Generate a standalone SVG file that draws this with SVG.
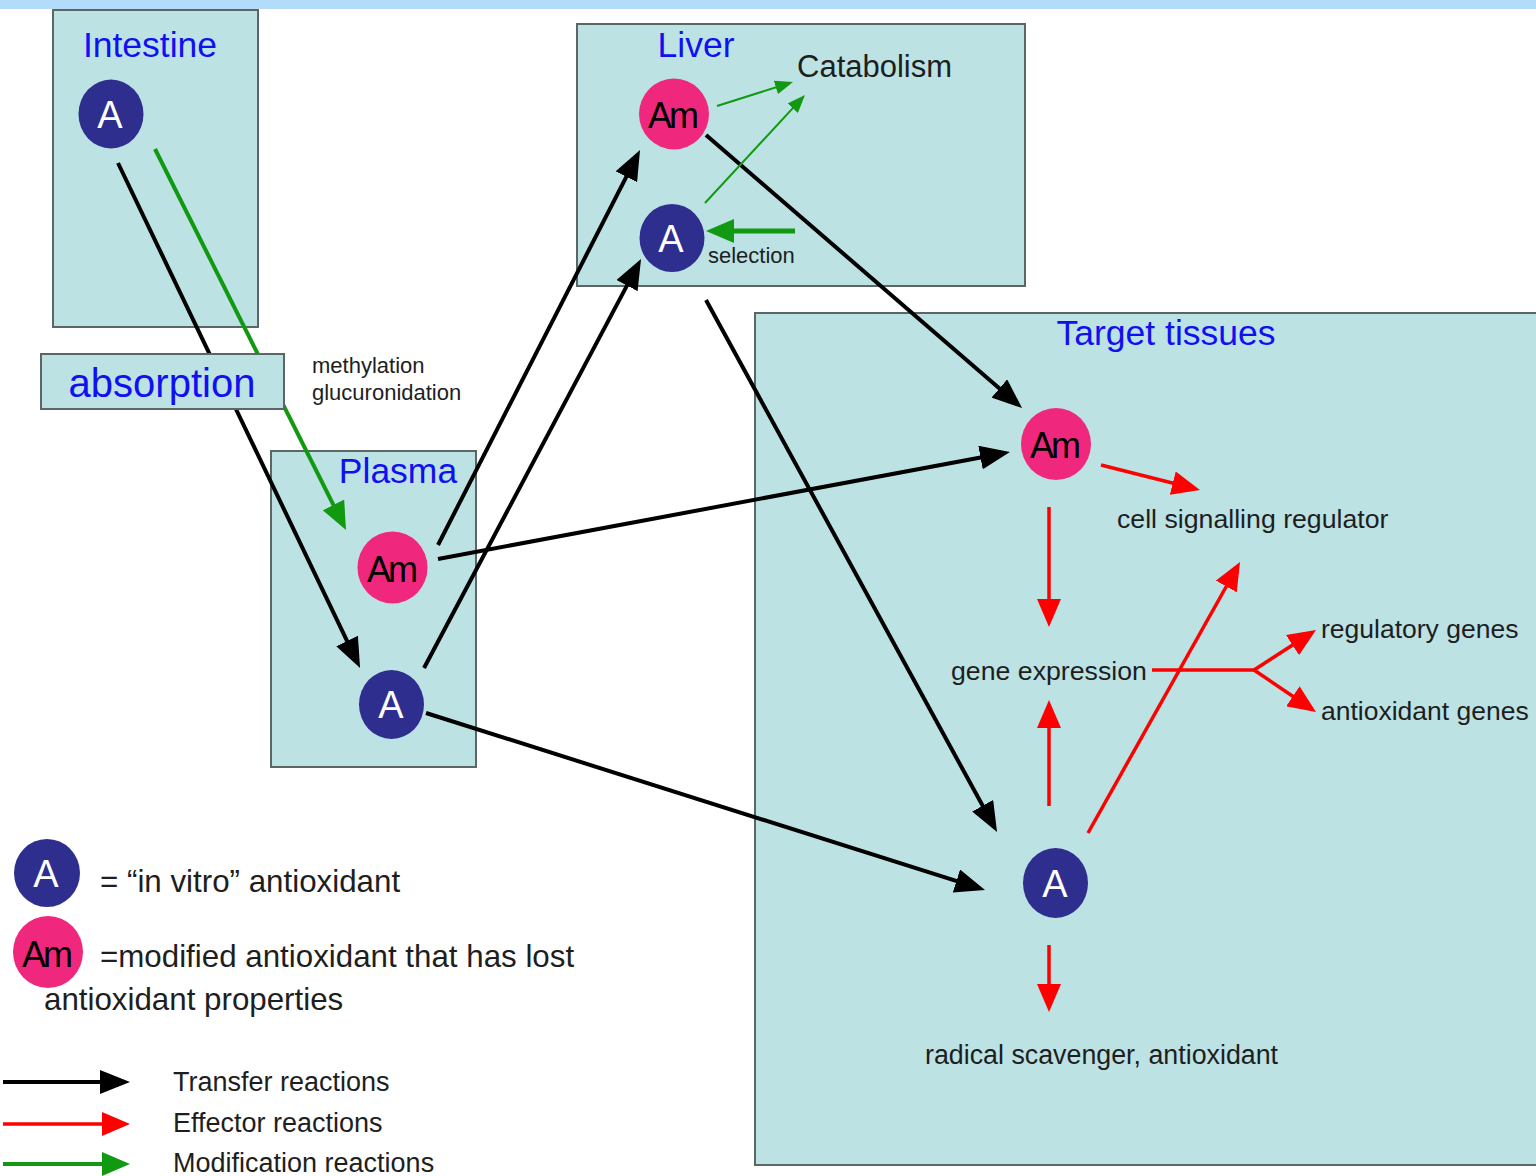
<svg xmlns="http://www.w3.org/2000/svg" width="1536" height="1176" viewBox="0 0 1536 1176">
<defs>
<style>
.box{fill:#bce2e4;stroke:#5d6666;stroke-width:2}
.title{font-family:"Liberation Sans",Arial,sans-serif;font-size:35.5px;fill:#1010f0}
.lbl{font-family:"Liberation Sans",Arial,sans-serif;fill:#1e1e1e}
.a{fill:#2e2e8e}
.am{fill:#f0287d}
.at{font-family:"Liberation Sans",Arial,sans-serif;font-size:38px;fill:#fff;text-anchor:middle}
.amt{font-family:"Liberation Sans",Arial,sans-serif;font-size:36px;fill:#000;text-anchor:middle;letter-spacing:-3px}
.blk{fill:none;stroke:#000;stroke-width:4;marker-end:url(#ah-black)}
.red{fill:none;stroke:#ff0000;stroke-width:3.5;marker-end:url(#ah-red)}
.grn{fill:none;stroke:#119a11;stroke-width:4;marker-end:url(#ah-green)}
.grn-thin{fill:none;stroke:#119a11;stroke-width:2;marker-end:url(#ah-green-s)}
</style>
<marker id="ah-black" markerUnits="userSpaceOnUse" markerWidth="30" markerHeight="24" refX="22" refY="12" orient="auto"><path d="M0,0 L30,12 L0,24 z" fill="#000"/></marker>
<marker id="ah-red" markerUnits="userSpaceOnUse" markerWidth="28" markerHeight="24" refX="20" refY="12" orient="auto"><path d="M0,0 L28,12 L0,24 z" fill="#ff0000"/></marker>
<marker id="ah-green" markerUnits="userSpaceOnUse" markerWidth="28" markerHeight="24" refX="20" refY="12" orient="auto"><path d="M0,0 L28,12 L0,24 z" fill="#119a11"/></marker>
<marker id="ah-green-s" markerUnits="userSpaceOnUse" markerWidth="18" markerHeight="14" refX="12" refY="7" orient="auto"><path d="M0,0 L18,7 L0,14 z" fill="#119a11"/></marker>
</defs>
<rect x="0" y="0" width="1536" height="1176" fill="#fff"/>
<rect x="0" y="0" width="1536" height="9" fill="#b3dcfb"/>

<g id="intestine"><rect class="box" x="53" y="10" width="205" height="317"/><text class="title" x="150" y="57" text-anchor="middle">Intestine</text></g>
<g id="liver"><rect class="box" x="577" y="24" width="448" height="262"/><text class="title" x="696" y="57" text-anchor="middle">Liver</text></g>
<g id="plasma"><rect class="box" x="271" y="451" width="205" height="316"/><text class="title" x="398" y="483" text-anchor="middle">Plasma</text></g>
<g id="target"><rect class="box" x="755" y="313" width="800" height="852"/><text class="title" x="1166" y="345" text-anchor="middle">Target tissues</text></g>

<g id="labels">
<text class="lbl" x="312" y="373" font-size="22">methylation</text>
<text class="lbl" x="312" y="400" font-size="22">glucuronidation</text>
<text class="lbl" x="797" y="77" font-size="31">Catabolism</text>
<text class="lbl" x="708" y="263" font-size="22">selection</text>
<text class="lbl" x="1117" y="528" font-size="26.7">cell signalling regulator</text>
<text class="lbl" x="951" y="680" font-size="26.7">gene expression</text>
<text class="lbl" x="1321" y="638" font-size="26.5">regulatory genes</text>
<text class="lbl" x="1321" y="720" font-size="26.5">antioxidant genes</text>
<text class="lbl" x="925" y="1064" font-size="26.8">radical scavenger, antioxidant</text>
</g>

<g id="intestine-A"><ellipse class="a" cx="111" cy="114" rx="32.5" ry="34.5"/><text class="at" x="110" y="128">A</text></g>
<g id="liver-Am"><ellipse class="am" cx="674" cy="114" rx="35" ry="35.5"/><text class="amt" x="672" y="128">Am</text></g>
<g id="liver-A"><ellipse class="a" cx="672" cy="238" rx="32.5" ry="34"/><text class="at" x="671" y="252">A</text></g>
<g id="plasma-Am"><ellipse class="am" cx="392.5" cy="567.5" rx="35" ry="36"/><text class="amt" x="391" y="582">Am</text></g>
<g id="plasma-A"><ellipse class="a" cx="391.5" cy="704.5" rx="32.5" ry="34.5"/><text class="at" x="391" y="718">A</text></g>
<g id="target-Am"><ellipse class="am" cx="1056" cy="444" rx="35" ry="36"/><text class="amt" x="1054" y="458">Am</text></g>
<g id="target-A"><ellipse class="a" cx="1055.5" cy="883" rx="32.5" ry="35"/><text class="at" x="1055" y="897">A</text></g>

<g id="connectors">
<path class="blk" d="M118,163 L356.6,660.8"/>
<path class="grn" d="M155,149 L342.4,522.8"/>
<path class="blk" d="M438,545 L636.4,157.1"/>
<path class="blk" d="M424,668 L637.3,266.1"/>
<path class="blk" d="M438,559 L1002.1,453.5"/>
<path class="blk" d="M426,713 L977.4,887.6"/>
<path class="blk" d="M706,300 L993.2,825"/>
<path class="blk" d="M706,135 L1016,402.8"/>
<path class="grn-thin" d="M717,106 L787.3,83.8"/>
<path class="grn-thin" d="M705,203 L800.9,99.4"/>
<path class="grn" style="stroke-width:5" d="M795,231 L714,231"/>
<path class="red" d="M1101,465 L1192.2,488"/>
<path class="red" d="M1049,507 L1049,619"/>
<path class="red" d="M1049,806 L1049,708"/>
<path class="red" d="M1088,833 L1236.1,569"/>
<path fill="none" stroke="#ff0000" stroke-width="3.5" d="M1152,670 L1254,670"/>
<path class="red" d="M1254,670 L1309.3,634.3"/>
<path class="red" d="M1254,670 L1309.4,707.5"/>
<path class="red" d="M1049,945 L1049,1004"/>
</g>

<g id="absorption"><rect class="box" x="41" y="354" width="243" height="55"/><text class="title" x="162" y="397" text-anchor="middle" style="font-size:40px">absorption</text></g>

<g id="legend">
<ellipse class="a" cx="47" cy="873" rx="33" ry="34"/><text class="at" x="46" y="887">A</text>
<text class="lbl" x="100" y="892" font-size="31.3">= “in vitro” antioxidant</text>
<ellipse class="am" cx="48" cy="952" rx="35" ry="36"/><text class="amt" x="46" y="967">Am</text>
<text class="lbl" x="100" y="967" font-size="31.3">=modified antioxidant that has lost</text>
<text class="lbl" x="44" y="1010" font-size="31.3">antioxidant properties</text>
<path class="blk" d="M3,1082 L122,1082"/>
<path class="red" d="M3,1124 L122,1124"/>
<path class="grn" d="M3,1164 L122,1164"/>
<text class="lbl" x="173" y="1091" font-size="27">Transfer reactions</text>
<text class="lbl" x="173" y="1132" font-size="27">Effector reactions</text>
<text class="lbl" x="173" y="1172" font-size="27">Modification reactions</text>
</g>
</svg>
